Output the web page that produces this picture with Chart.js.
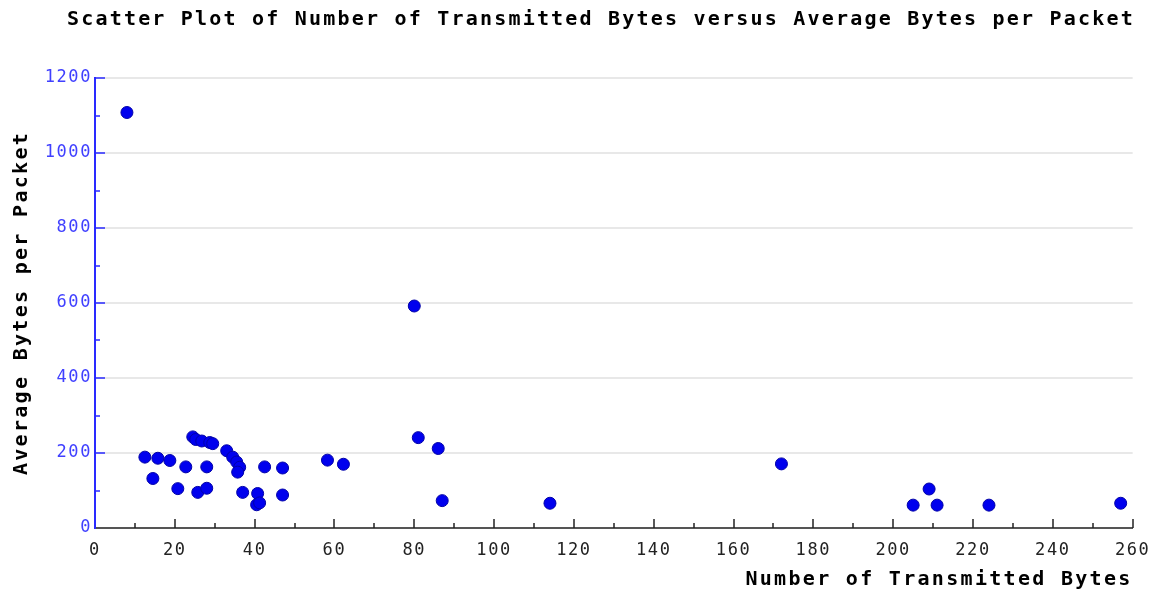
<!DOCTYPE html>
<html><head><meta charset="utf-8">
<script src="https://cdn.jsdelivr.net/npm/chart.js@4/dist/chart.umd.min.js"></script>
<style>html,body{margin:0;padding:0;background:#fff}#wrap{width:1160px;height:592px}</style>
</head><body><div id="wrap"><canvas id="c" width="1160" height="592"></canvas></div>
<script>
const chartTitle = 'Scatter Plot of Number of Transmitted Bytes versus Average Bytes per Packet';
const xAxisTitle = 'Number of Transmitted Bytes';
const yAxisTitle = 'Average Bytes per Packet';
const transmittedBytes = [8, 12.5, 14.5, 15.75, 18.75, 20.75, 22.75, 24.5, 25.25, 26.75, 28.75, 29.5, 25.75, 28, 28, 33, 34.5, 35.5, 36.25, 35.75, 37, 40.75, 40.5, 41.25, 42.5, 47, 47, 58.25, 62.25, 80, 81, 86, 87, 114, 172, 205, 209, 211, 224, 257];
const avgBytesPerPacket = [1108, 189, 132, 186, 180, 105, 163, 243, 236, 232, 228, 225, 95, 106, 163, 206, 189, 176, 162, 149, 95, 92, 62, 67, 163, 160, 88, 181, 170, 592, 241, 212, 73, 66, 171, 61, 104, 61, 61, 66];
const xTickValues = [0,10,20,30,40,50,60,70,80,90,100,110,120,130,140,150,160,170,180,190,200,210,220,230,240,250,260];
const yTickValues = [0,100,200,300,400,500,600,700,800,900,1000,1100,1200];

const points = transmittedBytes.map((x, i) => ({x, y: avgBytesPerPacket[i]}));

const letterSpacingPlugin = {
  id: 'letterSpacing',
  beforeDraw(chart) {
    const ctx = chart.ctx;
    const wrap = (obj, name, sp) => {
      if (!obj || obj['_ls_' + name]) return;
      const o = obj[name];
      obj[name] = function(...a) { ctx.save(); ctx.letterSpacing = sp; const r = o.apply(this, a); ctx.restore(); return r; };
      obj['_ls_' + name] = true;
    };
    wrap(chart.titleBlock, 'draw', '2.2px');
    wrap(chart.scales.x, 'drawTitle', '2.3px');
    wrap(chart.scales.y, 'drawTitle', '2.3px');
    wrap(chart.scales.x, 'drawLabels', '1.6px');
    wrap(chart.scales.y, 'drawLabels', '1.6px');
  }
};

const tickMarksPlugin = {
  id: 'tickMarks',
  beforeDatasetsDraw(chart) {
    const {ctx, chartArea, scales: {x, y}} = chart;
    ctx.save();
    ctx.lineWidth = 1.5;
    ctx.strokeStyle = '#222';
    x.ticks.forEach(t => {
      if (t.value === 0) return;
      const px = Math.round(x.getPixelForValue(t.value));
      const len = t.value % 20 === 0 ? 9 : 5;
      ctx.beginPath(); ctx.moveTo(px, chartArea.bottom); ctx.lineTo(px, chartArea.bottom - len); ctx.stroke();
    });
    ctx.strokeStyle = '#2a2aff';
    y.ticks.forEach(t => {
      if (t.value === 0) return;
      const py = Math.round(y.getPixelForValue(t.value));
      const len = t.value % 200 === 0 ? 10 : 5;
      ctx.beginPath(); ctx.moveTo(chartArea.left, py); ctx.lineTo(chartArea.left + len, py); ctx.stroke();
    });
    ctx.restore();
  }
};

const monoFont = '"DejaVu Sans Mono", "Liberation Mono", monospace';

new Chart(document.getElementById('c'), {
  type: 'scatter',
  data: {
    datasets: [{
      data: points,
      backgroundColor: '#0000ee',
      borderColor: '#0000a8',
      borderWidth: 1,
      pointRadius: 6,
      pointHoverRadius: 6
    }]
  },
  plugins: [letterSpacingPlugin, tickMarksPlugin],
  options: {
    responsive: false,
    animation: false,
    devicePixelRatio: 1,
    layout: {padding: {left: 0, right: 25, top: 0, bottom: 0}},
    plugins: {
      legend: {display: false},
      tooltip: {enabled: false},
      title: {
        display: true,
        text: chartTitle,
        align: 'end',
        color: '#000',
        font: {family: monoFont, size: 20, weight: 'bold', lineHeight: 1.2},
        padding: {top: 8, bottom: 46}
      }
    },
    scales: {
      x: {
        type: 'linear',
        min: 0, max: 260,
        afterBuildTicks: s => { s.ticks = xTickValues.map(v => ({value: v})); },
        afterFit: s => { s.height = 64; },
        ticks: {
          autoSkip: false, maxRotation: 0,
          callback: v => (v % 20 === 0 ? String(v) : ''),
          color: '#222',
          font: {family: monoFont, size: 17},
          padding: 12
        },
        grid: {drawOnChartArea: false, drawTicks: false},
        border: {display: true, color: '#555', width: 2},
        title: {
          display: true, text: xAxisTitle, align: 'end',
          color: '#000',
          font: {family: monoFont, size: 20, weight: 'bold', lineHeight: 1.2},
          padding: {top: 0, bottom: 0}
        }
      },
      y: {
        type: 'linear',
        min: 0, max: 1200,
        afterBuildTicks: s => { s.ticks = yTickValues.map(v => ({value: v})); },
        afterFit: s => { s.width = 95; },
        ticks: {
          autoSkip: false,
          callback: v => (v % 200 === 0 ? String(v) : ''),
          color: '#4040ff',
          font: {family: monoFont, size: 17},
          padding: 3
        },
        grid: {
          drawTicks: false,
          lineWidth: 2,
          color: c => (c.tick && c.tick.value % 200 === 0 && c.tick.value > 0) ? '#e8e8e8' : 'rgba(0,0,0,0)'
        },
        border: {display: true, color: '#2a2aff', width: 2},
        title: {
          display: true, text: yAxisTitle,
          color: '#000',
          font: {family: monoFont, size: 20, weight: 'bold', lineHeight: 1.2},
          padding: {top: 10, bottom: 0}
        }
      }
    }
  }
});
</script>
</body></html>
